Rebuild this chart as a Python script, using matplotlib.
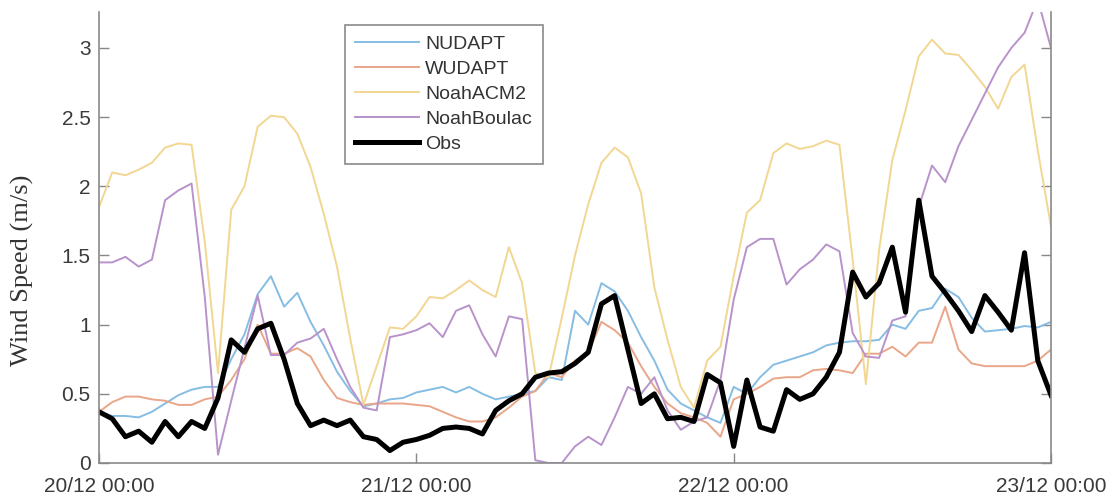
import pandas as pd
import matplotlib
matplotlib.use("Agg")
import matplotlib.pyplot as plt
import matplotlib.dates as mdates
from matplotlib.ticker import FuncFormatter

# hourly wind speed (m/s), 20/12 00:00 -> 23/12 00:00
times = pd.date_range("2018-12-20 00:00", periods=73, freq="h")

nudapt = [0.37, 0.34, 0.34, 0.33, 0.37, 0.43, 0.49, 0.53, 0.55, 0.55,
          0.75, 0.93, 1.22, 1.35, 1.13, 1.23, 1.02, 0.85, 0.66, 0.52,
          0.41, 0.43, 0.46, 0.47, 0.51, 0.53, 0.55, 0.51, 0.55, 0.50,
          0.46, 0.48, 0.50, 0.52, 0.62, 0.60, 1.10, 1.00, 1.30, 1.24,
          1.10, 0.91, 0.74, 0.53, 0.43, 0.38, 0.33, 0.29, 0.55, 0.50,
          0.62, 0.71, 0.74, 0.77, 0.80, 0.85, 0.87, 0.88, 0.88, 0.89,
          1.00, 0.97, 1.10, 1.12, 1.26, 1.20, 1.05, 0.95, 0.96, 0.97,
          0.99, 0.98, 1.02]

wudapt = [0.37, 0.44, 0.48, 0.48, 0.46, 0.45, 0.42, 0.42, 0.46, 0.48,
          0.60, 0.75, 1.00, 0.79, 0.79, 0.83, 0.77, 0.60, 0.47, 0.44,
          0.42, 0.43, 0.43, 0.43, 0.42, 0.41, 0.37, 0.33, 0.30, 0.30,
          0.33, 0.40, 0.48, 0.52, 0.65, 0.62, 0.74, 0.80, 1.02, 0.96,
          0.87, 0.70, 0.55, 0.43, 0.36, 0.33, 0.29, 0.19, 0.46, 0.50,
          0.55, 0.61, 0.62, 0.62, 0.67, 0.68, 0.67, 0.65, 0.79, 0.79,
          0.84, 0.77, 0.87, 0.87, 1.13, 0.82, 0.72, 0.70, 0.70, 0.70,
          0.70, 0.74, 0.82]

noah_acm2 = [1.85, 2.10, 2.08, 2.12, 2.17, 2.28, 2.31, 2.30, 1.60, 0.65,
             1.83, 2.00, 2.43, 2.51, 2.50, 2.38, 2.14, 1.80, 1.42, 0.90,
             0.42, 0.70, 0.98, 0.97, 1.06, 1.20, 1.19, 1.25, 1.32, 1.25,
             1.20, 1.56, 1.30, 0.65, 0.62, 1.05, 1.50, 1.87, 2.17, 2.28,
             2.21, 1.95, 1.27, 0.89, 0.55, 0.40, 0.74, 0.84, 1.35, 1.81,
             1.90, 2.24, 2.31, 2.27, 2.29, 2.33, 2.30, 1.47, 0.57, 1.54,
             2.19, 2.55, 2.94, 3.06, 2.96, 2.95, 2.84, 2.72, 2.56, 2.79,
             2.88, 2.26, 1.71]

noah_boulac = [1.45, 1.45, 1.49, 1.42, 1.47, 1.90, 1.97, 2.02, 1.20, 0.06,
               0.45, 0.83, 1.21, 0.78, 0.78, 0.87, 0.90, 0.97, 0.75, 0.55,
               0.40, 0.38, 0.91, 0.93, 0.96, 1.01, 0.91, 1.10, 1.14, 0.93,
               0.77, 1.06, 1.04, 0.02, 0.00, 0.00, 0.12, 0.19, 0.13, 0.33,
               0.55, 0.50, 0.62, 0.38, 0.24, 0.30, 0.33, 0.60, 1.18, 1.56,
               1.62, 1.62, 1.29, 1.40, 1.47, 1.58, 1.53, 0.94, 0.77, 0.76,
               1.03, 1.06, 1.85, 2.15, 2.03, 2.29, 2.48, 2.67, 2.86, 3.00,
               3.11, 3.35, 3.00]

obs = [0.37, 0.32, 0.19, 0.23, 0.15, 0.30, 0.19, 0.30, 0.25, 0.47,
       0.89, 0.80, 0.97, 1.01, 0.75, 0.43, 0.27, 0.31, 0.27, 0.31,
       0.19, 0.17, 0.09, 0.15, 0.17, 0.20, 0.25, 0.26, 0.25, 0.21,
       0.38, 0.45, 0.50, 0.62, 0.65, 0.66, 0.72, 0.80, 1.15, 1.21,
       0.82, 0.43, 0.50, 0.32, 0.33, 0.30, 0.64, 0.58, 0.12, 0.60,
       0.26, 0.23, 0.53, 0.46, 0.50, 0.62, 0.80, 1.38, 1.20, 1.30,
       1.56, 1.09, 1.90, 1.35, 1.23, 1.10, 0.95, 1.21, 1.09, 0.96,
       1.52, 0.74, 0.49]

models = {
    "NUDAPT": (nudapt, "#86bde3"),
    "WUDAPT": (wudapt, "#e9a688"),
    "NoahACM2": (noah_acm2, "#f2d792"),
    "NoahBoulac": (noah_boulac, "#b893cb"),
}

plt.rcParams["font.family"] = ["Liberation Sans", "DejaVu Sans"]

fig = plt.figure(figsize=(11.1, 5), dpi=100)
ax = fig.add_axes([99 / 1110, 37 / 500, 952 / 1110, 451 / 500])

for name, (vals, col) in models.items():
    ax.plot(times, vals, color=col, lw=1.4, label=name)
ax.plot(times, obs, color="black", lw=3.6, label="Obs")

ax.set_xlim(times[0], times[-1])
ax.set_ylim(0, 3.26)
ax.set_yticks([0, 0.5, 1, 1.5, 2, 2.5, 3])
ax.yaxis.set_major_formatter(FuncFormatter(lambda v, p: "%g" % v))
ax.xaxis.set_major_locator(mdates.DayLocator())
ax.xaxis.set_major_formatter(mdates.DateFormatter("%d/%m %H:%M"))

ax.tick_params(direction="in", length=7, width=1, color="#888888",
               labelsize=15, labelcolor="#3a3a3a")
ax.tick_params(axis="y", right=True, pad=6)
ax.tick_params(axis="x", pad=10)
for side in ["left", "bottom", "right"]:
    ax.spines[side].set_color("#8a8a8a")
    ax.spines[side].set_linewidth(1.2)
ax.spines["top"].set_visible(False)

# label sits a bit below the axes centre in the original
ax.set_ylabel("Wind Speed (m/s)", fontsize=19, family="Liberation Serif",
              color="#333333")
ax.yaxis.set_label_coords(-0.068, 0.428)

leg = ax.legend(loc="upper left", bbox_to_anchor=(0.258, 0.972), fontsize=14,
                handlelength=3.3, labelspacing=0.38, handletextpad=0.3,
                borderpad=0.55, borderaxespad=0, fancybox=False, framealpha=1)
leg.get_frame().set_edgecolor("#8a8a8a")
leg.get_frame().set_linewidth(1.2)
for t in leg.get_texts():
    t.set_color("#333333")

fig.savefig("out.png", dpi=100)
